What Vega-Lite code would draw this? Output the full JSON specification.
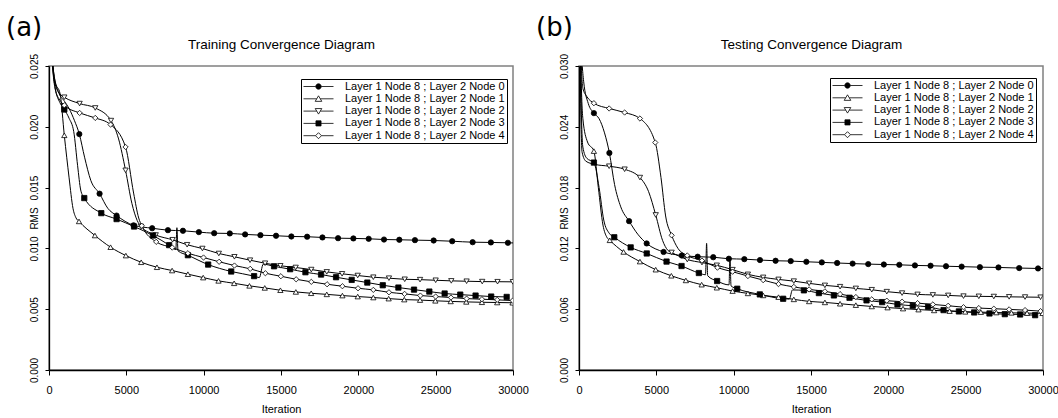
{
"$schema": "https://vega.github.io/schema/vega-lite/v6.json",
"background": "white",
"padding": {"left": 5, "top": 14, "right": 0, "bottom": 2},
"bounds": "flush",
"spacing": 66,
"config": {
  "font": "Liberation Sans",
  "view": {"stroke": "#808080", "strokeWidth": 1.5},
  "axis": {"labelFont": "Liberation Sans", "labelFontSize": 11, "labelColor": "black", "titleFont": "Liberation Sans", "titleFontSize": 11, "titleFontWeight": "normal", "titleColor": "black", "domainColor": "black", "domainWidth": 1.3, "tickColor": "black", "tickWidth": 1, "grid": false, "labelOverlap": false},
  "title": {"font": "DejaVu Sans", "fontSize": 26, "fontWeight": "normal", "anchor": "start", "frame": "group", "dx": -43, "offset": -4, "baseline": "bottom", "color": "black"},
  "legend": {"title": null, "strokeColor": "black", "strokeWidth": 1, "fillColor": "white", "padding": 2, "labelFont": "Liberation Sans", "labelFontSize": 11, "labelColor": "black", "symbolSize": 36, "symbolStrokeWidth": 0.8, "symbolOffset": 10, "labelOffset": 21, "rowPadding": 0.3, "cornerRadius": 0}
},
"datasets": {
"a": [
{"s":0,"x":0,"y":0.045,"m":0},{"s":0,"x":120,"y":0.0285,"m":0},{"s":0,"x":300,"y":0.0245,"m":0},{"s":0,"x":600,"y":0.0229,"m":0},{"s":0,"x":1000,"y":0.0221,"m":0},{"s":0,"x":1300,"y":0.0215,"m":0},{"s":0,"x":1650,"y":0.0205,"m":0},{"s":0,"x":1960,"y":0.0194,"m":1},{"s":0,"x":2300,"y":0.0175,"m":0},{"s":0,"x":2700,"y":0.0156,"m":0},{"s":0,"x":3270,"y":0.0145,"m":1},{"s":0,"x":3800,"y":0.0133,"m":0},{"s":0,"x":4370,"y":0.0127,"m":1},{"s":0,"x":5470,"y":0.0119,"m":1},{"s":0,"x":6670,"y":0.01166,"m":1},{"s":0,"x":7690,"y":0.0115,"m":1},{"s":0,"x":8660,"y":0.01145,"m":1},{"s":0,"x":9690,"y":0.01134,"m":1},{"s":0,"x":10680,"y":0.01125,"m":1},{"s":0,"x":11690,"y":0.01123,"m":1},{"s":0,"x":12680,"y":0.01115,"m":1},{"s":0,"x":13670,"y":0.01109,"m":1},{"s":0,"x":14680,"y":0.01104,"m":1},{"s":0,"x":15670,"y":0.01098,"m":1},{"s":0,"x":16690,"y":0.01096,"m":1},{"s":0,"x":17680,"y":0.0109,"m":1},{"s":0,"x":18690,"y":0.01084,"m":1},{"s":0,"x":19680,"y":0.01082,"m":1},{"s":0,"x":20670,"y":0.01079,"m":1},{"s":0,"x":21660,"y":0.01073,"m":1},{"s":0,"x":22650,"y":0.01071,"m":1},{"s":0,"x":23660,"y":0.01068,"m":1},{"s":0,"x":24870,"y":0.01065,"m":1},{"s":0,"x":26070,"y":0.01059,"m":1},{"s":0,"x":27390,"y":0.01051,"m":1},{"s":0,"x":28570,"y":0.01049,"m":1},{"s":0,"x":29670,"y":0.01046,"m":1},{"s":0,"x":30000,"y":0.01045,"m":0},
{"s":1,"x":0,"y":0.045,"m":0},{"s":1,"x":150,"y":0.027,"m":0},{"s":1,"x":400,"y":0.0237,"m":0},{"s":1,"x":720,"y":0.0227,"m":0},{"s":1,"x":990,"y":0.0193,"m":1},{"s":1,"x":1300,"y":0.0158,"m":0},{"s":1,"x":1550,"y":0.0133,"m":0},{"s":1,"x":1750,"y":0.0125,"m":0},{"s":1,"x":1940,"y":0.01222,"m":1},{"s":1,"x":2970,"y":0.01106,"m":1},{"s":1,"x":3980,"y":0.0101,"m":1},{"s":1,"x":4970,"y":0.00941,"m":1},{"s":1,"x":5960,"y":0.00886,"m":1},{"s":1,"x":6980,"y":0.00845,"m":1},{"s":1,"x":7960,"y":0.00818,"m":1},{"s":1,"x":8980,"y":0.00788,"m":1},{"s":1,"x":9970,"y":0.0076,"m":1},{"s":1,"x":10960,"y":0.00733,"m":1},{"s":1,"x":11970,"y":0.00713,"m":1},{"s":1,"x":12960,"y":0.00692,"m":1},{"s":1,"x":13950,"y":0.00675,"m":1},{"s":1,"x":14960,"y":0.00656,"m":1},{"s":1,"x":15960,"y":0.00642,"m":1},{"s":1,"x":16950,"y":0.00631,"m":1},{"s":1,"x":17960,"y":0.00622,"m":1},{"s":1,"x":18970,"y":0.00612,"m":1},{"s":1,"x":19960,"y":0.00604,"m":1},{"s":1,"x":20970,"y":0.00596,"m":1},{"s":1,"x":21960,"y":0.00587,"m":1},{"s":1,"x":22970,"y":0.00579,"m":1},{"s":1,"x":23990,"y":0.00575,"m":1},{"s":1,"x":24980,"y":0.00569,"m":1},{"s":1,"x":25970,"y":0.00564,"m":1},{"s":1,"x":26980,"y":0.0056,"m":1},{"s":1,"x":27990,"y":0.00557,"m":1},{"s":1,"x":28980,"y":0.00555,"m":1},{"s":1,"x":29970,"y":0.00553,"m":1},
{"s":2,"x":0,"y":0.045,"m":0},{"s":2,"x":150,"y":0.027,"m":0},{"s":2,"x":400,"y":0.0235,"m":0},{"s":2,"x":700,"y":0.0227,"m":0},{"s":2,"x":990,"y":0.02243,"m":1},{"s":2,"x":1980,"y":0.02191,"m":1},{"s":2,"x":2990,"y":0.02155,"m":1},{"s":2,"x":4010,"y":0.02051,"m":1},{"s":2,"x":4500,"y":0.019,"m":0},{"s":2,"x":4950,"y":0.01642,"m":1},{"s":2,"x":5360,"y":0.0137,"m":0},{"s":2,"x":5700,"y":0.0123,"m":0},{"s":2,"x":5950,"y":0.0118,"m":1},{"s":2,"x":6900,"y":0.0111,"m":1},{"s":2,"x":7990,"y":0.01071,"m":1},{"s":2,"x":8930,"y":0.0103,"m":1},{"s":2,"x":9920,"y":0.00999,"m":1},{"s":2,"x":10980,"y":0.00958,"m":1},{"s":2,"x":11990,"y":0.00931,"m":1},{"s":2,"x":13000,"y":0.00903,"m":1},{"s":2,"x":13970,"y":0.00878,"m":1},{"s":2,"x":14960,"y":0.00857,"m":1},{"s":2,"x":15950,"y":0.00843,"m":1},{"s":2,"x":16960,"y":0.00826,"m":1},{"s":2,"x":17960,"y":0.00807,"m":1},{"s":2,"x":18950,"y":0.00791,"m":1},{"s":2,"x":19960,"y":0.00777,"m":1},{"s":2,"x":20970,"y":0.00763,"m":1},{"s":2,"x":21980,"y":0.00755,"m":1},{"s":2,"x":23000,"y":0.00746,"m":1},{"s":2,"x":23990,"y":0.00743,"m":1},{"s":2,"x":25000,"y":0.00738,"m":1},{"s":2,"x":26010,"y":0.00733,"m":1},{"s":2,"x":27000,"y":0.0073,"m":1},{"s":2,"x":28010,"y":0.00727,"m":1},{"s":2,"x":29000,"y":0.00726,"m":1},{"s":2,"x":29990,"y":0.00725,"m":1},
{"s":3,"x":0,"y":0.045,"m":0},{"s":3,"x":150,"y":0.027,"m":0},{"s":3,"x":400,"y":0.0232,"m":0},{"s":3,"x":700,"y":0.022,"m":0},{"s":3,"x":990,"y":0.02142,"m":1},{"s":3,"x":1300,"y":0.0207,"m":0},{"s":3,"x":1600,"y":0.0196,"m":0},{"s":3,"x":1850,"y":0.0168,"m":0},{"s":3,"x":2050,"y":0.0148,"m":0},{"s":3,"x":2280,"y":0.01414,"m":1},{"s":3,"x":3380,"y":0.0129,"m":1},{"s":3,"x":4370,"y":0.01241,"m":1},{"s":3,"x":5500,"y":0.0118,"m":1},{"s":3,"x":6720,"y":0.01106,"m":1},{"s":3,"x":7770,"y":0.01027,"m":1},{"s":3,"x":8200,"y":0.0099,"m":0},{"s":3,"x":8270,"y":0.0117,"m":0},{"s":3,"x":8340,"y":0.0098,"m":0},{"s":3,"x":8980,"y":0.00944,"m":1},{"s":3,"x":10290,"y":0.00867,"m":1},{"s":3,"x":11780,"y":0.0081,"m":1},{"s":3,"x":13260,"y":0.00772,"m":1},{"s":3,"x":13600,"y":0.0076,"m":0},{"s":3,"x":13850,"y":0.0087,"m":0},{"s":3,"x":14550,"y":0.00853,"m":1},{"s":3,"x":15590,"y":0.00829,"m":1},{"s":3,"x":16580,"y":0.00804,"m":1},{"s":3,"x":17590,"y":0.00785,"m":1},{"s":3,"x":18560,"y":0.00763,"m":1},{"s":3,"x":19570,"y":0.00741,"m":1},{"s":3,"x":20580,"y":0.00719,"m":1},{"s":3,"x":21580,"y":0.00697,"m":1},{"s":3,"x":22590,"y":0.00678,"m":1},{"s":3,"x":23600,"y":0.00661,"m":1},{"s":3,"x":24590,"y":0.00645,"m":1},{"s":3,"x":25580,"y":0.00629,"m":1},{"s":3,"x":26590,"y":0.0062,"m":1},{"s":3,"x":27580,"y":0.00612,"m":1},{"s":3,"x":28590,"y":0.00604,"m":1},{"s":3,"x":29590,"y":0.00601,"m":1},
{"s":4,"x":0,"y":0.045,"m":0},{"s":4,"x":150,"y":0.027,"m":0},{"s":4,"x":400,"y":0.0231,"m":0},{"s":4,"x":700,"y":0.0222,"m":0},{"s":4,"x":990,"y":0.02177,"m":1},{"s":4,"x":1980,"y":0.02114,"m":1},{"s":4,"x":2990,"y":0.02073,"m":1},{"s":4,"x":3980,"y":0.02018,"m":1},{"s":4,"x":4950,"y":0.01834,"m":1},{"s":4,"x":5470,"y":0.01455,"m":0},{"s":4,"x":5800,"y":0.0125,"m":0},{"s":4,"x":6000,"y":0.01186,"m":1},{"s":4,"x":6930,"y":0.01054,"m":1},{"s":4,"x":7970,"y":0.01007,"m":1},{"s":4,"x":8980,"y":0.0096,"m":1},{"s":4,"x":9990,"y":0.00925,"m":1},{"s":4,"x":11000,"y":0.0089,"m":1},{"s":4,"x":11990,"y":0.00859,"m":1},{"s":4,"x":13010,"y":0.00832,"m":1},{"s":4,"x":13990,"y":0.00796,"m":1},{"s":4,"x":14990,"y":0.00771,"m":1},{"s":4,"x":15980,"y":0.00746,"m":1},{"s":4,"x":16960,"y":0.00725,"m":1},{"s":4,"x":17980,"y":0.00705,"m":1},{"s":4,"x":18970,"y":0.00689,"m":1},{"s":4,"x":19980,"y":0.00672,"m":1},{"s":4,"x":20970,"y":0.00659,"m":1},{"s":4,"x":21980,"y":0.00639,"m":1},{"s":4,"x":22990,"y":0.00626,"m":1},{"s":4,"x":24010,"y":0.00612,"m":1},{"s":4,"x":25000,"y":0.00604,"m":1},{"s":4,"x":25990,"y":0.00596,"m":1},{"s":4,"x":27000,"y":0.00587,"m":1},{"s":4,"x":27990,"y":0.00582,"m":1},{"s":4,"x":28980,"y":0.00577,"m":1},{"s":4,"x":29980,"y":0.00571,"m":1}
],
"b": [
{"s":0,"x":0,"y":0.05,"m":0},{"s":0,"x":100,"y":0.034,"m":0},{"s":0,"x":300,"y":0.0285,"m":0},{"s":0,"x":600,"y":0.0263,"m":0},{"s":0,"x":963,"y":0.02535,"m":1},{"s":0,"x":1300,"y":0.0248,"m":0},{"s":0,"x":1650,"y":0.0234,"m":0},{"s":0,"x":1965,"y":0.02142,"m":1},{"s":0,"x":2300,"y":0.0183,"m":0},{"s":0,"x":2700,"y":0.0161,"m":0},{"s":0,"x":3240,"y":0.01469,"m":1},{"s":0,"x":3800,"y":0.0134,"m":0},{"s":0,"x":4376,"y":0.01249,"m":1},{"s":0,"x":5468,"y":0.01165,"m":1},{"s":0,"x":6645,"y":0.0113,"m":1},{"s":0,"x":7673,"y":0.01118,"m":1},{"s":0,"x":8680,"y":0.01113,"m":1},{"s":0,"x":9690,"y":0.01098,"m":1},{"s":0,"x":10690,"y":0.01094,"m":1},{"s":0,"x":11700,"y":0.01085,"m":1},{"s":0,"x":12710,"y":0.01078,"m":1},{"s":0,"x":13690,"y":0.01075,"m":1},{"s":0,"x":14700,"y":0.01068,"m":1},{"s":0,"x":15700,"y":0.01062,"m":1},{"s":0,"x":16690,"y":0.01056,"m":1},{"s":0,"x":17690,"y":0.0105,"m":1},{"s":0,"x":18700,"y":0.01045,"m":1},{"s":0,"x":19710,"y":0.01041,"m":1},{"s":0,"x":20710,"y":0.01038,"m":1},{"s":0,"x":21720,"y":0.01032,"m":1},{"s":0,"x":22730,"y":0.01029,"m":1},{"s":0,"x":23730,"y":0.01024,"m":1},{"s":0,"x":24740,"y":0.0102,"m":1},{"s":0,"x":25920,"y":0.01015,"m":1},{"s":0,"x":27120,"y":0.01012,"m":1},{"s":0,"x":28460,"y":0.01006,"m":1},{"s":0,"x":29680,"y":0.01002,"m":1},{"s":0,"x":30000,"y":0.01001,"m":0},
{"s":1,"x":0,"y":0.05,"m":0},{"s":1,"x":100,"y":0.032,"m":0},{"s":1,"x":250,"y":0.0248,"m":0},{"s":1,"x":550,"y":0.0225,"m":0},{"s":1,"x":963,"y":0.0216,"m":1},{"s":1,"x":1250,"y":0.018,"m":0},{"s":1,"x":1550,"y":0.0143,"m":0},{"s":1,"x":1800,"y":0.0131,"m":0},{"s":1,"x":1990,"y":0.0128,"m":1},{"s":1,"x":2880,"y":0.01165,"m":1},{"s":1,"x":3940,"y":0.0107,"m":1},{"s":1,"x":4960,"y":0.0099,"m":1},{"s":1,"x":5970,"y":0.0093,"m":1},{"s":1,"x":6910,"y":0.00884,"m":1},{"s":1,"x":7930,"y":0.00842,"m":1},{"s":1,"x":8910,"y":0.00812,"m":1},{"s":1,"x":9930,"y":0.00779,"m":1},{"s":1,"x":10920,"y":0.00756,"m":1},{"s":1,"x":11910,"y":0.00736,"m":1},{"s":1,"x":12900,"y":0.00719,"m":1},{"s":1,"x":13890,"y":0.00697,"m":1},{"s":1,"x":14880,"y":0.00677,"m":1},{"s":1,"x":15900,"y":0.00667,"m":1},{"s":1,"x":16880,"y":0.00654,"m":1},{"s":1,"x":17900,"y":0.0064,"m":1},{"s":1,"x":18930,"y":0.00627,"m":1},{"s":1,"x":19950,"y":0.00616,"m":1},{"s":1,"x":20950,"y":0.00606,"m":1},{"s":1,"x":21950,"y":0.00596,"m":1},{"s":1,"x":22960,"y":0.00588,"m":1},{"s":1,"x":23960,"y":0.00581,"m":1},{"s":1,"x":24970,"y":0.00574,"m":1},{"s":1,"x":25980,"y":0.00571,"m":1},{"s":1,"x":26980,"y":0.00567,"m":1},{"s":1,"x":27960,"y":0.00564,"m":1},{"s":1,"x":28970,"y":0.00561,"m":1},{"s":1,"x":29970,"y":0.0056,"m":1},
{"s":2,"x":0,"y":0.05,"m":0},{"s":2,"x":80,"y":0.03,"m":0},{"s":2,"x":200,"y":0.0215,"m":0},{"s":2,"x":450,"y":0.0206,"m":0},{"s":2,"x":1000,"y":0.0203,"m":0},{"s":2,"x":1950,"y":0.02011,"m":1},{"s":2,"x":2950,"y":0.01981,"m":1},{"s":2,"x":3940,"y":0.01899,"m":1},{"s":2,"x":4500,"y":0.0176,"m":0},{"s":2,"x":4960,"y":0.0153,"m":1},{"s":2,"x":5400,"y":0.0128,"m":0},{"s":2,"x":5750,"y":0.0118,"m":0},{"s":2,"x":5990,"y":0.0116,"m":1},{"s":2,"x":7000,"y":0.0109,"m":1},{"s":2,"x":7950,"y":0.0106,"m":1},{"s":2,"x":8910,"y":0.01033,"m":1},{"s":2,"x":9930,"y":0.0099,"m":1},{"s":2,"x":10920,"y":0.00944,"m":1},{"s":2,"x":11910,"y":0.00914,"m":1},{"s":2,"x":12900,"y":0.00894,"m":1},{"s":2,"x":13890,"y":0.00877,"m":1},{"s":2,"x":14880,"y":0.00855,"m":1},{"s":2,"x":15900,"y":0.00835,"m":1},{"s":2,"x":16880,"y":0.00822,"m":1},{"s":2,"x":17900,"y":0.00805,"m":1},{"s":2,"x":18930,"y":0.00792,"m":1},{"s":2,"x":19900,"y":0.00773,"m":1},{"s":2,"x":20890,"y":0.00759,"m":1},{"s":2,"x":21890,"y":0.00746,"m":1},{"s":2,"x":22880,"y":0.00741,"m":1},{"s":2,"x":23870,"y":0.00736,"m":1},{"s":2,"x":24860,"y":0.00729,"m":1},{"s":2,"x":25850,"y":0.00727,"m":1},{"s":2,"x":26820,"y":0.00725,"m":1},{"s":2,"x":27810,"y":0.00722,"m":1},{"s":2,"x":28840,"y":0.0072,"m":1},{"s":2,"x":29840,"y":0.00718,"m":1},
{"s":3,"x":0,"y":0.05,"m":0},{"s":3,"x":100,"y":0.03,"m":0},{"s":3,"x":250,"y":0.022,"m":0},{"s":3,"x":500,"y":0.0209,"m":0},{"s":3,"x":963,"y":0.02047,"m":1},{"s":3,"x":1300,"y":0.018,"m":0},{"s":3,"x":1600,"y":0.0148,"m":0},{"s":3,"x":1950,"y":0.0135,"m":0},{"s":3,"x":2280,"y":0.0131,"m":1},{"s":3,"x":3340,"y":0.0121,"m":1},{"s":3,"x":4380,"y":0.0115,"m":1},{"s":3,"x":5660,"y":0.0107,"m":1},{"s":3,"x":6630,"y":0.01026,"m":1},{"s":3,"x":7750,"y":0.00957,"m":1},{"s":3,"x":8180,"y":0.0094,"m":0},{"s":3,"x":8250,"y":0.0125,"m":0},{"s":3,"x":8320,"y":0.0093,"m":0},{"s":3,"x":8930,"y":0.00878,"m":1},{"s":3,"x":9700,"y":0.0084,"m":0},{"s":3,"x":9760,"y":0.0111,"m":0},{"s":3,"x":9830,"y":0.0083,"m":0},{"s":3,"x":10230,"y":0.00802,"m":1},{"s":3,"x":11690,"y":0.00746,"m":1},{"s":3,"x":13200,"y":0.00703,"m":1},{"s":3,"x":13600,"y":0.007,"m":0},{"s":3,"x":13800,"y":0.0079,"m":0},{"s":3,"x":14540,"y":0.00786,"m":1},{"s":3,"x":15510,"y":0.00759,"m":1},{"s":3,"x":16480,"y":0.00736,"m":1},{"s":3,"x":17490,"y":0.00713,"m":1},{"s":3,"x":18590,"y":0.00687,"m":1},{"s":3,"x":19600,"y":0.0067,"m":1},{"s":3,"x":20590,"y":0.00647,"m":1},{"s":3,"x":21580,"y":0.00634,"m":1},{"s":3,"x":22570,"y":0.00624,"m":1},{"s":3,"x":23570,"y":0.00591,"m":1},{"s":3,"x":24560,"y":0.00578,"m":1},{"s":3,"x":25550,"y":0.00568,"m":1},{"s":3,"x":26540,"y":0.00558,"m":1},{"s":3,"x":27530,"y":0.00551,"m":1},{"s":3,"x":28520,"y":0.00548,"m":1},{"s":3,"x":29490,"y":0.00541,"m":1},
{"s":4,"x":0,"y":0.05,"m":0},{"s":4,"x":100,"y":0.033,"m":0},{"s":4,"x":250,"y":0.0278,"m":0},{"s":4,"x":500,"y":0.027,"m":0},{"s":4,"x":963,"y":0.02633,"m":1},{"s":4,"x":1950,"y":0.02581,"m":1},{"s":4,"x":2950,"y":0.02541,"m":1},{"s":4,"x":3940,"y":0.02482,"m":1},{"s":4,"x":4930,"y":0.02245,"m":1},{"s":4,"x":5300,"y":0.019,"m":0},{"s":4,"x":5600,"y":0.0152,"m":0},{"s":4,"x":5990,"y":0.01329,"m":1},{"s":4,"x":6400,"y":0.012,"m":0},{"s":4,"x":7000,"y":0.0113,"m":1},{"s":4,"x":7950,"y":0.0108,"m":1},{"s":4,"x":8950,"y":0.0101,"m":1},{"s":4,"x":9930,"y":0.0097,"m":1},{"s":4,"x":10920,"y":0.00927,"m":1},{"s":4,"x":11910,"y":0.00887,"m":1},{"s":4,"x":12900,"y":0.00848,"m":1},{"s":4,"x":13890,"y":0.0082,"m":1},{"s":4,"x":14880,"y":0.00795,"m":1},{"s":4,"x":15900,"y":0.00776,"m":1},{"s":4,"x":16880,"y":0.00749,"m":1},{"s":4,"x":17900,"y":0.0072,"m":1},{"s":4,"x":18930,"y":0.00697,"m":1},{"s":4,"x":19900,"y":0.00684,"m":1},{"s":4,"x":20890,"y":0.00674,"m":1},{"s":4,"x":21890,"y":0.0066,"m":1},{"s":4,"x":22880,"y":0.00647,"m":1},{"s":4,"x":23870,"y":0.00634,"m":1},{"s":4,"x":24860,"y":0.0062,"m":1},{"s":4,"x":25850,"y":0.00611,"m":1},{"s":4,"x":26820,"y":0.00605,"m":1},{"s":4,"x":27810,"y":0.00598,"m":1},{"s":4,"x":28840,"y":0.00591,"m":1},{"s":4,"x":29840,"y":0.00581,"m":1}
]
},
"hconcat": [
{
  "width": 464, "height": 304,
  "title": {"text": "(a)"},
  "data": {"name": "a"},
  "layer": [
    {
      "mark": {"type": "line", "color": "black", "strokeWidth": 1, "clip": true, "interpolate": "monotone"},
      "encoding": {
        "x": {"field": "x", "type": "quantitative", "scale": {"domain": [0, 30000], "nice": false, "zero": false}, "axis": {"orient": "bottom", "values": [0, 5000, 10000, 15000, 20000, 25000, 30000], "format": "d", "title": "Iteration", "labelFlush": false, "tickSize": 5, "labelPadding": 9, "titlePadding": 8}},
        "y": {"field": "y", "type": "quantitative", "scale": {"domain": [0, 0.025], "nice": false}, "axis": {"orient": "left", "values": [0, 0.005, 0.01, 0.015, 0.02, 0.025], "format": ".3f", "labelAngle": -90, "labelAlign": "center", "labelBaseline": "bottom", "labelFontSize": 10, "tickSize": 4, "labelPadding": 6, "title": "RMS", "titleFontSize": 10, "titleX": -10, "titleY": 152, "titleAngle": -90, "titleAlign": "center", "titleBaseline": "bottom"}},
        "detail": {"field": "s", "type": "nominal"}
      }
    },
    {
      "transform": [{"filter": "datum.m == 1"}],
      "mark": {"type": "point", "filled": true, "stroke": "black", "strokeWidth": 0.8, "size": 28, "opacity": 1, "clip": true},
      "encoding": {
        "x": {"field": "x", "type": "quantitative", "axis": null},
        "y": {"field": "y", "type": "quantitative", "axis": null},
        "shape": {"field": "s", "type": "nominal", "scale": {"domain": [0, 1, 2, 3, 4], "range": ["circle", "triangle-up", "triangle-down", "square", "diamond"]}, "legend": null},
        "fill": {"field": "s", "type": "nominal", "scale": {"domain": [0, 1, 2, 3, 4], "range": ["black", "white", "white", "black", "white"]}, "legend": null}
      }
    },
    {
      "transform": [{"filter": "false"}],
      "mark": {"type": "point", "filled": false, "color": "black", "strokeWidth": 0.8, "size": 36, "opacity": 1},
      "encoding": {
        "x": {"field": "x", "type": "quantitative", "axis": {"orient": "top", "title": "Training Convergence Diagram", "labels": false, "ticks": false, "domain": false, "titleFontSize": 13.5, "titlePadding": 15}},
        "y": {"field": "y", "type": "quantitative", "axis": null},
        "shape": {"field": "s", "type": "nominal", "scale": {"domain": [0, 1, 2, 3, 4], "range": ["M-5,0H-0.9M0.9,0H5M-0.9,0A0.9,0.9,0,1,1,0.9,0A0.9,0.9,0,1,1,-0.9,0Z", "M-5,0H-0.6M0.6,0H5M0,-1L1.1,0.85L-1.1,0.85Z", "M-5,0H-0.6M0.6,0H5M0,1L1.1,-0.85L-1.1,-0.85Z", "M-5,0H-0.85M0.85,0H5M-0.85,-0.85H0.85V0.85H-0.85Z", "M-5,0H-1M1,0H5M-1,0L0,-1L1,0L0,1Z"]}, "legend": {"orient": "none", "legendX": 252, "legendY": 13, "labelExpr": "'Layer 1 Node 8 ; Layer 2 Node ' + datum.label"}},
        "fill": {"field": "s", "type": "nominal", "scale": {"domain": [0, 1, 2, 3, 4], "range": ["black", "white", "white", "black", "white"]}, "legend": {"orient": "none", "legendX": 252, "legendY": 13, "labelExpr": "'Layer 1 Node 8 ; Layer 2 Node ' + datum.label"}}
      }
    }
  ],
  "resolve": {"scale": {"shape": "independent", "fill": "independent"}, "axis": {"x": "independent", "y": "independent"}}
},
{
  "width": 464, "height": 304,
  "title": {"text": "(b)"},
  "data": {"name": "b"},
  "layer": [
    {
      "mark": {"type": "line", "color": "black", "strokeWidth": 1, "clip": true, "interpolate": "monotone"},
      "encoding": {
        "x": {"field": "x", "type": "quantitative", "scale": {"domain": [0, 30000], "nice": false, "zero": false}, "axis": {"orient": "bottom", "values": [0, 5000, 10000, 15000, 20000, 25000, 30000], "format": "d", "title": "Iteration", "labelFlush": false, "tickSize": 5, "labelPadding": 9, "titlePadding": 8}},
        "y": {"field": "y", "type": "quantitative", "scale": {"domain": [0, 0.03], "nice": false}, "axis": {"orient": "left", "values": [0, 0.006, 0.012, 0.018, 0.024, 0.03], "format": ".3f", "labelAngle": -90, "labelAlign": "center", "labelBaseline": "bottom", "labelFontSize": 10, "tickSize": 4, "labelPadding": 6, "title": "RMS", "titleFontSize": 10, "titleX": -10, "titleY": 152, "titleAngle": -90, "titleAlign": "center", "titleBaseline": "bottom"}},
        "detail": {"field": "s", "type": "nominal"}
      }
    },
    {
      "transform": [{"filter": "datum.m == 1"}],
      "mark": {"type": "point", "filled": true, "stroke": "black", "strokeWidth": 0.8, "size": 28, "opacity": 1, "clip": true},
      "encoding": {
        "x": {"field": "x", "type": "quantitative", "axis": null},
        "y": {"field": "y", "type": "quantitative", "axis": null},
        "shape": {"field": "s", "type": "nominal", "scale": {"domain": [0, 1, 2, 3, 4], "range": ["circle", "triangle-up", "triangle-down", "square", "diamond"]}, "legend": null},
        "fill": {"field": "s", "type": "nominal", "scale": {"domain": [0, 1, 2, 3, 4], "range": ["black", "white", "white", "black", "white"]}, "legend": null}
      }
    },
    {
      "transform": [{"filter": "false"}],
      "mark": {"type": "point", "filled": false, "color": "black", "strokeWidth": 0.8, "size": 36, "opacity": 1},
      "encoding": {
        "x": {"field": "x", "type": "quantitative", "axis": {"orient": "top", "title": "Testing Convergence Diagram", "labels": false, "ticks": false, "domain": false, "titleFontSize": 13.5, "titlePadding": 15}},
        "y": {"field": "y", "type": "quantitative", "axis": null},
        "shape": {"field": "s", "type": "nominal", "scale": {"domain": [0, 1, 2, 3, 4], "range": ["M-5,0H-0.9M0.9,0H5M-0.9,0A0.9,0.9,0,1,1,0.9,0A0.9,0.9,0,1,1,-0.9,0Z", "M-5,0H-0.6M0.6,0H5M0,-1L1.1,0.85L-1.1,0.85Z", "M-5,0H-0.6M0.6,0H5M0,1L1.1,-0.85L-1.1,-0.85Z", "M-5,0H-0.85M0.85,0H5M-0.85,-0.85H0.85V0.85H-0.85Z", "M-5,0H-1M1,0H5M-1,0L0,-1L1,0L0,1Z"]}, "legend": {"orient": "none", "legendX": 251, "legendY": 12, "labelExpr": "'Layer 1 Node 8 ; Layer 2 Node ' + datum.label"}},
        "fill": {"field": "s", "type": "nominal", "scale": {"domain": [0, 1, 2, 3, 4], "range": ["black", "white", "white", "black", "white"]}, "legend": {"orient": "none", "legendX": 251, "legendY": 12, "labelExpr": "'Layer 1 Node 8 ; Layer 2 Node ' + datum.label"}}
      }
    }
  ],
  "resolve": {"scale": {"shape": "independent", "fill": "independent"}, "axis": {"x": "independent", "y": "independent"}}
}
]
}
